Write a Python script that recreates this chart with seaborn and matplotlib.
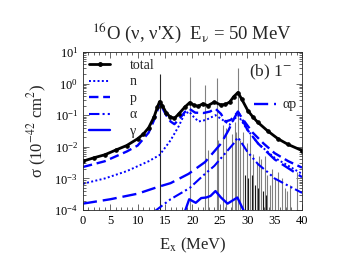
import numpy as np
import pandas as pd
import matplotlib
matplotlib.use("Agg")
import matplotlib.pyplot as plt
import matplotlib.ticker as mticker
from matplotlib.lines import Line2D
import seaborn as sns

# Values (E_x in MeV, sigma in 1e-42 cm^2)
e_total = [0, 2, 4, 6, 8, 10, 11, 12, 13, 13.6, 14, 14.5, 15.2, 15.9, 16.7, 17.5, 18.6, 19.5,
           20.2, 21, 21.9, 22.8, 24, 25.2, 26, 26.8, 27.5, 28.3, 29, 30.1, 31, 31.9, 33.7,
           35.6, 37.4, 40]
s_total = [3.5e-3, 4.5e-3, 5.6e-3, 7.9e-3, 1.1e-2, 1.8e-2, 2.5e-2, 4.0e-2, 8.9e-2, 0.18, 0.27,
           0.20, 0.12, 0.089, 0.079, 0.11, 0.18, 0.25, 0.21, 0.19, 0.23, 0.20, 0.26, 0.21, 0.22,
           0.26, 0.38, 0.52, 0.32, 0.14, 0.089, 0.060, 0.032, 0.018, 0.012, 7.6e-3]

e_n = [0, 4, 8, 12, 14, 16, 17.5, 18.5, 19.4, 20.2, 21.1, 22.5, 24.2, 25.5, 26.8, 28.3, 30,
       32, 35, 40]
s_n = [6.8e-4, 1.0e-3, 1.7e-3, 3.5e-3, 5.5e-3, 0.016, 0.045, 0.105, 0.13, 0.089, 0.063,
       0.071, 0.10, 0.071, 0.05, 0.10, 0.035, 0.0126, 4.5e-3, 1.4e-3]

e_p = [0, 4, 8, 10, 12, 13, 13.6, 14, 14.5, 15.2, 16, 16.7, 17.7, 18.6, 19.4, 20.5, 22, 23.2,
       24.2, 25.2, 26, 27, 28.3, 29.5, 31, 33, 35, 37.5, 40]
s_p = [2.3e-3, 3.5e-3, 7.1e-3, 1.1e-2, 2.8e-2, 7.1e-2, 0.14, 0.24, 0.17, 0.10, 0.063, 0.052,
       0.079, 0.126, 0.16, 0.12, 0.117, 0.13, 0.16, 0.11, 0.063, 0.071, 0.126, 0.063, 0.028,
       0.0126, 6.3e-3, 3.5e-3, 2.2e-3]

e_alpha = [13, 16, 19.5, 22, 24, 26, 27.5, 28.3, 30, 32, 33.7, 35, 37.4, 40]
s_alpha = [8.9e-5, 2.2e-4, 5.0e-4, 1.26e-3, 2.5e-3, 6.3e-3, 0.0126, 0.020, 7.1e-3, 2.8e-3,
           1.6e-3, 1.0e-3, 6.0e-4, 3.5e-4]

e_gamma = [18.5, 19.4, 20.6, 21.6, 22.5, 23.3, 24.2, 25.2, 26.4, 27.3, 28.2, 29.3, 30]
s_gamma = [7.9e-5, 2.2e-4, 1.7e-4, 2.4e-4, 2.5e-4, 2.8e-4, 4.0e-4, 2.5e-4, 1.6e-4, 2.0e-4,
           2.5e-4, 1.0e-4, 4.0e-5]

e_ap = [0, 5, 10, 13.7, 16, 19.3, 22.3, 25.2, 26.6, 27.6, 28.3, 29, 30, 32, 35, 40]
s_ap = [1.6e-4, 2.2e-4, 3.3e-4, 5.4e-4, 7.1e-4, 1.4e-3, 3.3e-3, 0.0126, 0.034, 0.079, 0.13,
        0.079, 0.035, 0.0126, 4.0e-3, 1.1e-3]

# discrete (shell-model) strength lines
e_lines = [14.06, 19.5, 22.3, 24.4, 28.3, 22.9, 24.7, 25.6, 26.2, 27.2, 27.7, 28.0, 28.7, 29.3,
           29.9, 30.5, 31.0, 31.7, 32.2, 32.6, 33.2, 33.6, 34.2, 34.6, 35.1, 35.7, 36.3, 36.8,
           37.2, 37.8, 39.0]
s_lines = [2.0, 1.6, 0.9, 1.45, 3.2, 8e-3, 1.6e-2, 5e-2, 4e-2, 2.5e-2, 6e-2, 3e-2, 1.6e-2,
           3e-2, 1.3e-2, 2.5e-2, 6e-3, 3e-3, 5e-3, 4e-3, 5e-3, 1.3e-3, 6e-4, 2e-3, 1e-3, 1.6e-3,
           1e-3, 5e-4, 4e-4, 6e-4, 1.6e-3]
e_dark = [29.6, 30.2, 30.8, 31.4, 32.0, 32.9, 33.5]
s_dark = [1.3e-3, 1.0e-3, 1.3e-3, 6e-4, 5e-4, 4e-4, 3e-4]

sns.set_style("ticks")
plt.rcParams['font.family'] = ['Liberation Serif', 'DejaVu Serif']
plt.rcParams['mathtext.fontset'] = 'stix'
plt.rcParams['axes.linewidth'] = 0.6

blue = '#0000ff'
fig, ax = plt.subplots(figsize=(3.44, 2.79), dpi=100)
fig.subplots_adjust(left=0.241, right=0.878, top=0.814, bottom=0.247)

ax.vlines(e_lines, 1e-5, s_lines, colors=['0.15'] + ['0.5'] * (len(e_lines) - 1), lw=0.8)
ax.vlines(e_dark, 1e-5, s_dark, colors='0.1', lw=0.8)

sns.lineplot(x=e_n, y=s_n, ax=ax, color=blue, lw=1.4, linestyle=(0, (1, 1.2)))
sns.lineplot(x=e_p, y=s_p, ax=ax, color=blue, lw=1.7, linestyle=(0, (4, 2)))
sns.lineplot(x=e_ap, y=s_ap, ax=ax, color=blue, lw=1.7, linestyle=(0, (6, 2.5)))
sns.lineplot(x=e_alpha, y=s_alpha, ax=ax, color=blue, lw=1.5,
             linestyle=(0, (5, 1.5, 1, 1.5, 1, 1.5)))
sns.lineplot(x=e_gamma, y=s_gamma, ax=ax, color=blue, lw=1.7)
sns.lineplot(x=e_total, y=s_total, ax=ax, color='black', lw=2.0, marker='o', ms=2.5,
             mec='black')

ax.set_yscale('log')
ax.set_xlim(0, 40)
ax.set_ylim(1e-4, 10)
ax.xaxis.set_major_locator(mticker.MultipleLocator(5))
ax.xaxis.set_minor_locator(mticker.MultipleLocator(1))
ax.yaxis.set_major_locator(mticker.LogLocator(base=10, numticks=10))
ax.yaxis.set_minor_locator(mticker.LogLocator(base=10, subs=np.arange(2, 10), numticks=20))
ax.yaxis.set_minor_formatter(mticker.NullFormatter())
ax.tick_params(which='both', direction='in', top=True, right=True, labelsize=9,
               width=0.6, colors='0.3', labelcolor='black')
ax.tick_params(which='major', length=4)
ax.tick_params(which='minor', length=2)

ax.set_xlabel('E$_{\\mathrm{x}}$ (MeV)', fontsize=12, labelpad=6)
ax.set_ylabel('σ (10$^{-42}$ cm$^{2}$)', fontsize=12, labelpad=4)
ax.set_title("$^{16}$O (ν, ν'X)  E$_{\\mathrm{ν}}$ = 50 MeV", fontsize=13.5, pad=9)

ax.text(0.955, 0.87, '(b) 1$^{-}$', transform=ax.transAxes, ha='right', va='center',
        fontsize=12.5)

h = [Line2D([], [], color='black', lw=2.0, marker='o', ms=2.5),
     Line2D([], [], color=blue, lw=1.4, linestyle=(0, (1, 1.2))),
     Line2D([], [], color=blue, lw=1.7, linestyle=(0, (4, 2))),
     Line2D([], [], color=blue, lw=1.5, linestyle=(0, (5, 1.5, 1, 1.5, 1, 1.5))),
     Line2D([], [], color=blue, lw=1.7)]
leg1 = ax.legend(h, ['total', 'n', 'p', 'α', 'γ'], loc='upper left',
                 bbox_to_anchor=(0.03, 0.955), frameon=False, fontsize=10,
                 borderpad=0, borderaxespad=0,
                 handlelength=1.45, labelspacing=0.25, handletextpad=1.45)
ax.add_artist(leg1)
ax.legend([Line2D([], [], color=blue, lw=1.7, linestyle=(0, (6, 2.5)))], ['αp'],
          loc='center left', bbox_to_anchor=(0.78, 0.665), frameon=False, fontsize=10,
          borderpad=0, borderaxespad=0, handlelength=1.6, handletextpad=0.45)

plt.savefig('out.png', dpi=100)
